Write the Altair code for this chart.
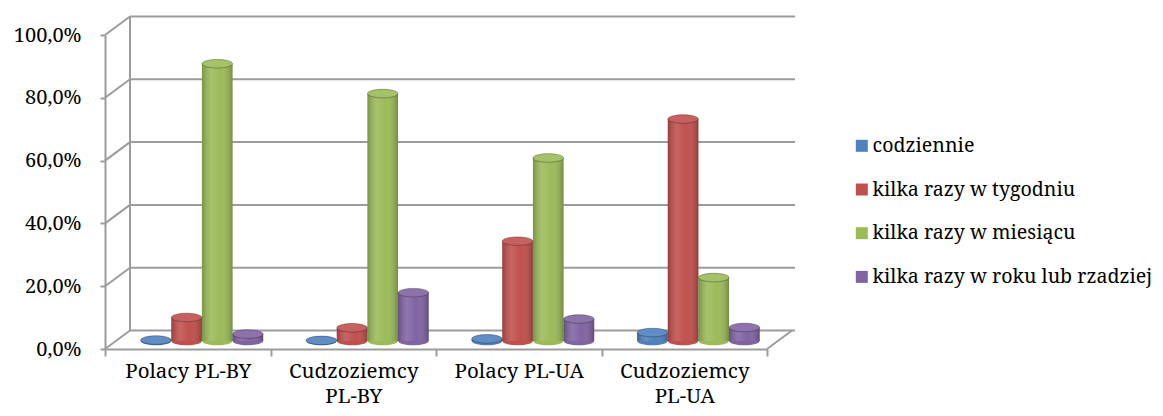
import altair as alt
import pandas as pd

categories = ["Polacy PL-BY", "Cudzoziemcy PL-BY", "Polacy PL-UA", "Cudzoziemcy PL-UA"]
series = ["codziennie", "kilka razy w tygodniu", "kilka razy w miesiącu", "kilka razy w roku lub rzadziej"]
codziennie = [0.3, 0.2, 0.7, 2.7]
tygodniu = [7.5, 4.2, 31.8, 70.7]
miesiacu = [88.3, 78.8, 58.3, 20.2]
roku = [2.2, 15.4, 7.0, 4.3]
colors = ["#4F81BD", "#C0504D", "#9BBB59", "#8064A2"]
y_ticks = [0, 20, 40, 60, 80, 100]

rows = []
for s, vals in zip(series, [codziennie, tygodniu, miesiacu, roku]):
    for c, v in zip(categories, vals):
        rows.append({"cat": c, "series": s, "v": v, "zero": 0})
df = pd.DataFrame(rows)
ticks_df = pd.DataFrame({"v": y_ticks})
one = pd.DataFrame({"a": [0]})

W, H = 662, 314
DX, DY = 25, -18.5
GREY = "#9c9c9c"
FONT = "Noto Serif"
FS = 20

yscale = alt.Scale(domain=[0, 100], nice=False)
ellipse = "M -1 0 A 1 0.28 0 1 0 1 0 A 1 0.28 0 1 0 -1 0 Z"

color_enc = alt.Color(
    "series:N", sort=series,
    scale=alt.Scale(domain=series, range=colors),
    legend=alt.Legend(
        title=None, orient="none", legendX=747, legendY=101,
        symbolType="square", symbolSize=144, symbolStrokeWidth=0,
        labelFont=FONT, labelFontSize=19.6, labelColor="#000000",
        rowPadding=22.7, labelOffset=1, padding=0, labelLimit=400,
    ),
)

xenc = alt.X(
    "cat:N", sort=categories, title=None,
    scale=alt.Scale(paddingInner=0, paddingOuter=0),
    axis=alt.Axis(
        labelAngle=0, labelFont=FONT, labelFontSize=20.5, labelColor="#000000",
        domainColor=GREY, domainWidth=2, tickColor=GREY, tickWidth=2, tickSize=7,
        tickBand="extent", labelPadding=5, labelLineHeight=25,
        labelExpr="indexof(datum.label, 'Cudzoziemcy') == 0 ? split(datum.label, ' ') : datum.label",
    ),
)
xoff = alt.XOffset("series:N", sort=series,
                   scale=alt.Scale(paddingInner=0, paddingOuter=0.7, align=0.83))

yaxis = alt.Axis(
    values=y_ticks, grid=False, title=None,
    labelFont=FONT, labelFontSize=FS, labelColor="#000000",
    labelExpr="replace(format(datum.value, '.1f'), '.', ',') + '%'",
    domainColor=GREY, domainWidth=2, tickColor=GREY, tickWidth=2, tickSize=5,
    labelPadding=19,
)

back_grid = alt.Chart(ticks_df).mark_rule(color=GREY, strokeWidth=2, yOffset=DY).encode(
    y=alt.Y("v:Q", scale=yscale, axis=yaxis), x=alt.value(DX), x2=alt.value(W + 28)
)
diag = alt.Chart(ticks_df).mark_rule(color=GREY, strokeWidth=2, y2Offset=DY).encode(
    y=alt.Y("v:Q", scale=yscale), y2=alt.Y2("v"), x=alt.value(0), x2=alt.value(DX)
)
back_left = alt.Chart(one).mark_rule(color=GREY, strokeWidth=2, yOffset=DY, y2Offset=DY).encode(
    y=alt.datum(0, scale=yscale), y2=alt.datum(100), x=alt.value(DX)
)
floor_right = alt.Chart(one).mark_rule(color=GREY, strokeWidth=2, y2Offset=DY).encode(
    y=alt.datum(0, scale=yscale), y2=alt.datum(0), x=alt.value(W), x2=alt.value(W + DX)
)

BY = -8
bottoms = alt.Chart(df).mark_point(
    shape=ellipse, size=930, filled=True, opacity=1, yOffset=BY
).encode(x=xenc, xOffset=xoff, y=alt.Y("zero:Q", scale=yscale), color=color_enc)

bars = alt.Chart(df).mark_bar(yOffset=BY, y2Offset=BY).encode(
    x=xenc, xOffset=xoff, y=alt.Y("v:Q", scale=yscale, stack=None), y2=alt.Y2("zero"), color=color_enc
)

shade = alt.LinearGradient(
    gradient="linear", x1=0, x2=1, y1=0, y2=0,
    stops=[
        alt.GradientStop(color="rgba(0,0,0,0.22)", offset=0),
        alt.GradientStop(color="rgba(255,255,255,0.12)", offset=0.3),
        alt.GradientStop(color="rgba(255,255,255,0.0)", offset=0.6),
        alt.GradientStop(color="rgba(0,0,0,0.25)", offset=1),
    ],
)
overlay = alt.Chart(df).mark_bar(color=shade, yOffset=BY, y2Offset=BY).encode(
    x=xenc, xOffset=xoff, y=alt.Y("v:Q", scale=yscale, stack=None), y2=alt.Y2("zero")
)

tops = alt.Chart(df).mark_point(
    shape=ellipse, size=930, filled=True, opacity=1, yOffset=BY,
    stroke="rgba(0,0,0,0.3)", strokeWidth=1,
).encode(x=xenc, xOffset=xoff, y=alt.Y("v:Q", scale=yscale), color=color_enc)

tops_light = alt.Chart(df).mark_point(
    shape=ellipse, size=930, filled=True, color="white", opacity=0.1, yOffset=BY
).encode(x=xenc, xOffset=xoff, y=alt.Y("v:Q", scale=yscale))

chart = alt.layer(
    back_grid, diag, back_left, floor_right, bottoms, bars, overlay, tops, tops_light
).properties(
    width=W, height=H,
    autosize=alt.AutoSizeParams(type="none"),
    padding={"left": 97, "top": 27, "right": 388, "bottom": 59},
).configure(background="white", font=FONT).configure_view(stroke=None)

chart.save("out.html", embed_options={"renderer": "svg", "actions": False})
